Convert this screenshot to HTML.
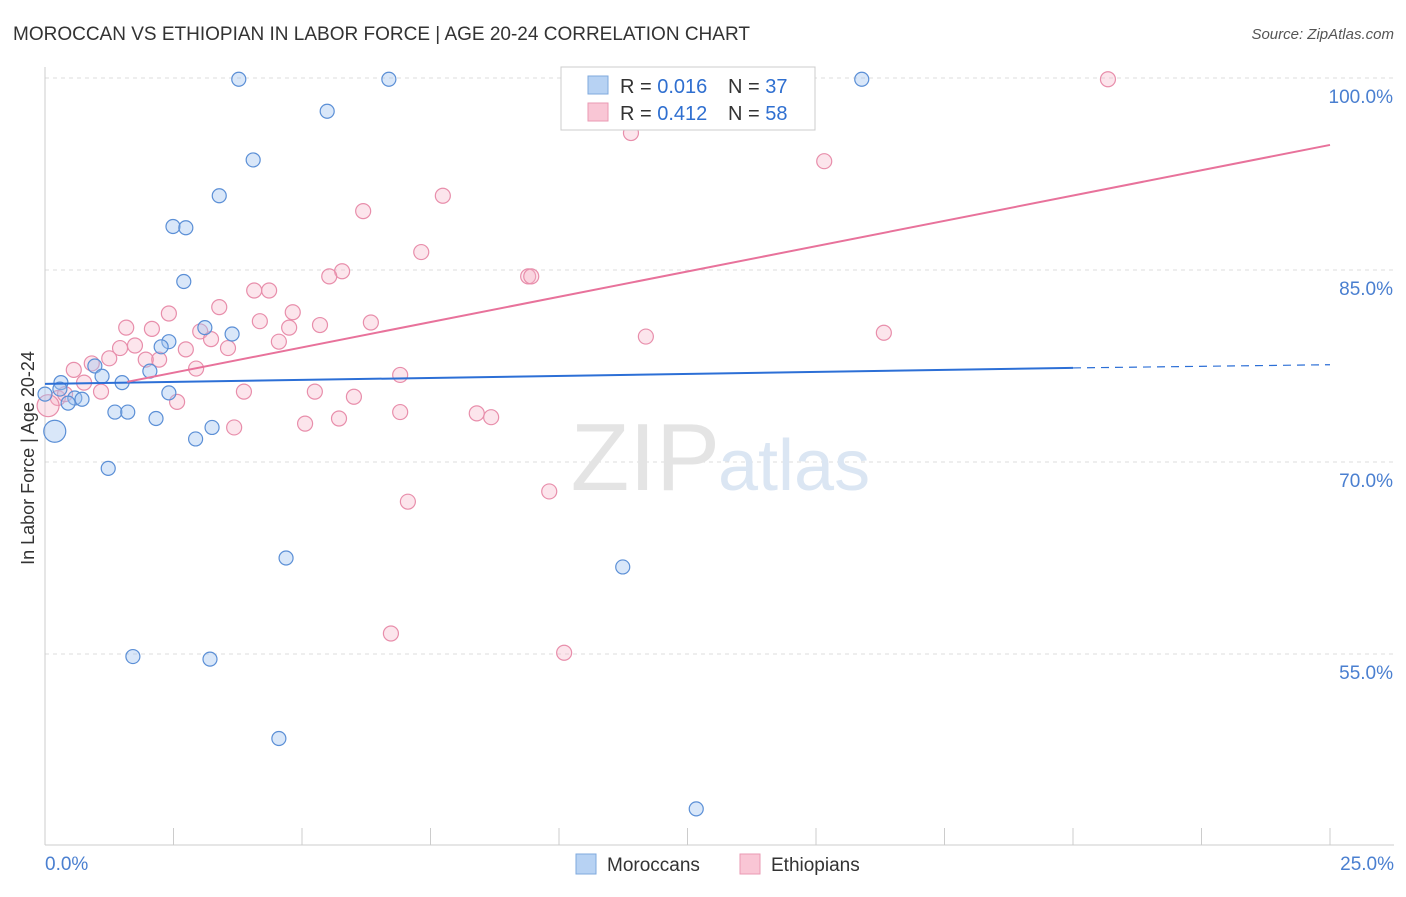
<!DOCTYPE html>
<html><head><meta charset="utf-8"><style>
body{margin:0;background:#fff;font-family:"Liberation Sans",sans-serif;}
svg text{font-family:"Liberation Sans",sans-serif;}
</style></head><body>
<svg id="c" width="1406" height="892">
<text x="13" y="40" font-size="19" fill="#333">MOROCCAN VS ETHIOPIAN IN LABOR FORCE | AGE 20-24 CORRELATION CHART</text>
<text x="1394" y="39" font-size="15" fill="#555" font-style="italic" text-anchor="end">Source: ZipAtlas.com</text>
<text x="0" y="0" transform="translate(34,458) rotate(-90)" font-size="18" fill="#333" text-anchor="middle">In Labor Force | Age 20-24</text>
<g id="grid"></g><g id="axes"></g>
<text x="720" y="490" font-size="96" fill="#e4e4e4" font-family="Liberation Serif" text-anchor="end">ZIP</text>
<text x="718" y="490" font-size="72" fill="#dbe6f3">atlas</text>
<g id="pts"></g><g id="lines"></g>
<g>
<rect x="561" y="67" width="254" height="63" fill="#fff" stroke="#ccc"/>
<rect x="588" y="76" width="20" height="18" fill="#b7d2f3" stroke="#7fa9de"/>
<rect x="588" y="103" width="20" height="18" fill="#f9c6d5" stroke="#ea9ab3"/>
<text x="620" y="93" font-size="20" fill="#333">R = <tspan fill="#2f6fd0">0.016</tspan></text>
<text x="728" y="93" font-size="20" fill="#333">N = <tspan fill="#2f6fd0">37</tspan></text>
<text x="620" y="120" font-size="20" fill="#333">R = <tspan fill="#2f6fd0">0.412</tspan></text>
<text x="728" y="120" font-size="20" fill="#333">N = <tspan fill="#2f6fd0">58</tspan></text>
</g>
<g>
<rect x="576" y="854" width="20" height="20" fill="#b7d2f3" stroke="#7fa9de"/>
<text x="607" y="871" font-size="19" fill="#333">Moroccans</text>
<rect x="740" y="854" width="20" height="20" fill="#f9c6d5" stroke="#ea9ab3"/>
<text x="771" y="871" font-size="19" fill="#333">Ethiopians</text>
</g>
</svg>
<script>
const yTicks=[100,85,70,55];
const yTickLabels=["100.0%","85.0%","70.0%","55.0%"];
const xTickLabels=["0.0%","25.0%"];
const blueX=[3.77,6.69,15.89,5.49,4.05,3.39,2.49,2.74,2.70,3.11,3.64,2.41,2.26,0.97,2.04,1.11,0.31,1.50,2.41,0.58,0.72,0.45,1.36,1.61,2.16,3.25,2.93,0.19,1.23,4.69,11.24,1.71,3.21,4.55,12.67,0.0,0.29];
const blueY=[99.9,99.9,99.9,97.4,93.6,90.8,88.4,88.3,84.1,80.5,80.0,79.4,79.0,77.5,77.1,76.7,76.2,76.2,75.4,75.0,74.9,74.6,73.9,73.9,73.4,72.7,71.8,72.4,69.5,62.5,61.8,54.8,54.6,48.4,42.9,75.3,75.7];
const pinkX=[14.69,20.68,12.76,11.40,15.16,7.74,6.19,7.32,5.78,5.53,9.40,9.46,4.07,4.36,3.39,2.41,4.82,1.58,2.08,4.18,5.35,6.34,4.75,3.02,3.23,11.69,16.32,4.55,1.46,1.75,3.56,2.74,0.91,1.25,2.22,1.96,2.94,0.56,6.91,0.76,1.09,3.87,5.25,6.01,0.25,2.57,0.06,6.91,8.40,8.68,5.72,5.06,3.68,9.81,7.06,6.73,10.10,0.39];
const pinkY=[99.9,99.9,99.9,95.7,93.5,90.8,89.6,86.4,84.9,84.5,84.5,84.5,83.4,83.4,82.1,81.6,81.7,80.5,80.4,81.0,80.7,80.9,80.5,80.2,79.6,79.8,80.1,79.4,78.9,79.1,78.9,78.8,77.7,78.1,78.0,78.0,77.3,77.2,76.8,76.2,75.5,75.5,75.5,75.1,75.0,74.7,74.4,73.9,73.8,73.5,73.4,73.0,72.7,67.7,66.9,56.6,55.1,75.3];
const blueR=[7,7,7,7,7,7,7,7,7,7,7,7,7,7,7,7,7,7,7,7,7,7,7,7,7,7,7,11,7,7,7,7,7,7,7,7,7];
const trendBlue=[76.1,77.35,77.6];   // at x=0, x=20, x=25
const trendPink=[75.0,94.77];        // at x=0, x=25
const X0=45,X1=1330,YT=78,PX_PER=12.8;
const sx=v=>X0+(X1-X0)*v/25;
const sy=v=>YT+(100-v)*PX_PER;
const NS="http://www.w3.org/2000/svg";
function mk(p,t,a){const e=document.createElementNS(NS,t);for(const k in a)e.setAttribute(k,a[k]);p.appendChild(e);return e;}
const grid=document.getElementById('grid'),axes=document.getElementById('axes');
yTicks.forEach((v,i)=>{
 const l=mk(grid,'line',{x1:X0,x2:1394,y1:sy(v),y2:sy(v),stroke:'#ddd','stroke-dasharray':'4,4'});
 
 
 const t=mk(grid,'text',{x:1393,y:sy(v)+25,'font-size':19,fill:'#4a7fd0','text-anchor':'end'});
 t.textContent=yTickLabels[i];
 
 
});
const ax=mk(axes,'line',{x1:X0,x2:X0,y1:67,y2:845,stroke:'#ccc'});


const bx=mk(axes,'line',{x1:X0,x2:1394,y1:845,y2:845,stroke:'#ccc'});


for(let i=0;i<=10;i++){const t=mk(axes,'line',{x1:sx(i*2.5),x2:sx(i*2.5),y1:828,y2:845,stroke:'#ccc'});
 
 }
[[0,'start',45],[25,'end',1394]].forEach((d,i)=>{const t=mk(axes,'text',{x:d[2],y:870,'font-size':19,fill:'#4a7fd0','text-anchor':d[1]});t.textContent=xTickLabels[i];
 
 });
const pts=document.getElementById('pts');
pinkX.forEach((x,i)=>{const c=mk(pts,'circle',{cx:sx(x),cy:sy(pinkY[i]),r:i==46?11:7.5,fill:'rgba(246,180,200,0.35)',stroke:'#e88eab','stroke-width':1.2});
 
 });
blueX.forEach((x,i)=>{const c=mk(pts,'circle',{cx:sx(x),cy:sy(blueY[i]),r:blueR[i],fill:'rgba(160,196,240,0.4)',stroke:'#5b8fd6','stroke-width':1.2});
 
 });
const lines=document.getElementById('lines');
const b1=mk(lines,'line',{x1:sx(0),y1:sy(trendBlue[0]),x2:sx(20),y2:sy(trendBlue[1]),stroke:'#2c6fd6','stroke-width':2});


const b2=mk(lines,'line',{x1:sx(20),y1:sy(trendBlue[1]),x2:sx(25),y2:sy(trendBlue[2]),stroke:'#2c6fd6','stroke-width':1.2,'stroke-dasharray':'8,6'});


const ps=1.6,pyS=trendPink[0]+(trendPink[1]-trendPink[0])*ps/25;
const p1=mk(lines,'line',{x1:sx(ps),y1:sy(pyS),x2:sx(25),y2:sy(trendPink[1]),stroke:'#e8729b','stroke-width':2});


</script>
</body></html>
